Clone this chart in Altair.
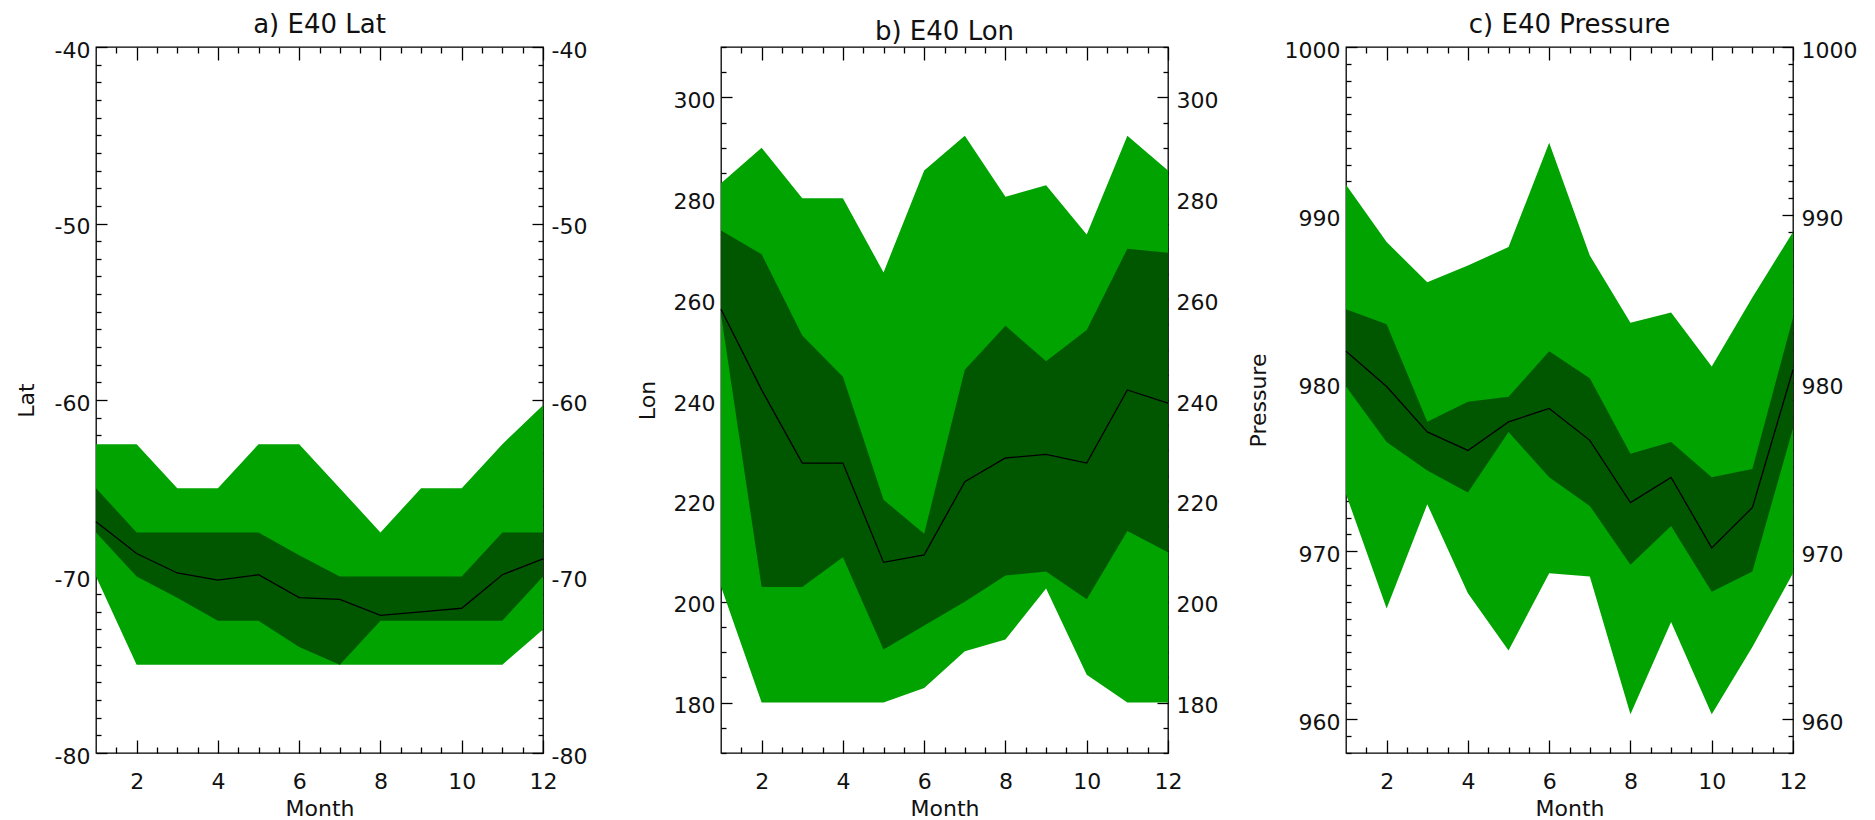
import altair as alt
import pandas as pd

FONT = "DejaVu Sans"
LIGHT = "#00a300"
DARK = "#005700"

months = list(range(1, 13))

# a) Lat
lat_out_lo = [-70, -75, -75, -75, -75, -75, -75, -75, -75, -75, -75, -73]
lat_out_hi = [-62.5, -62.5, -65, -65, -62.5, -62.5, -65, -67.5, -65, -65, -62.5, -60.3]
lat_in_lo = [-67.5, -70, -71.2, -72.5, -72.5, -74, -75, -72.5, -72.5, -72.5, -72.5, -70]
lat_in_hi = [-65, -67.5, -67.5, -67.5, -67.5, -68.8, -70, -70, -70, -70, -67.5, -67.5]
lat_med = [-66.9, -68.7, -69.8, -70.2, -69.9, -71.2, -71.3, -72.2, -72.0, -71.8, -69.9, -69.0]

# b) Lon
lon_out_lo = [203, 180, 180, 180, 180, 182.9, 190.2, 192.5, 202.6, 185.5, 180, 180]
lon_out_hi = [283, 290, 280, 280, 265.3, 285.5, 292.4, 280.3, 282.6, 272.8, 292.4, 285.5]
lon_in_lo = [257, 202.9, 202.9, 208.8, 190.5, 195.3, 200, 205.2, 206, 200.5, 214, 209.8]
lon_in_hi = [273.6, 268.9, 252.8, 244.6, 220.2, 213.5, 246, 254.7, 247.7, 253.9, 270, 269.2]
lon_med = [258, 242, 227.5, 227.5, 207.8, 209.3, 223.8, 228.5, 229.2, 227.5, 242, 239.4]

# c) Pressure
p_out_lo = [973.4, 966.6, 972.8, 967.5, 964.1, 968.7, 968.5, 960.3, 965.8, 960.3, 964.3, 968.7]
p_out_hi = [991.8, 988.4, 986.0, 987.0, 988.1, 994.3, 987.6, 983.6, 984.2, 981.0, 985.1, 989.0]
p_in_lo = [979.8, 976.5, 974.8, 973.5, 977.1, 974.4, 972.7, 969.2, 971.5, 967.6, 968.8, 977.3]
p_in_hi = [984.4, 983.5, 977.7, 978.9, 979.2, 981.9, 980.3, 975.8, 976.5, 974.4, 974.9, 983.9]
p_med = [981.9, 979.8, 977.1, 976.0, 977.7, 978.5, 976.6, 972.9, 974.4, 970.2, 972.6, 980.8]

x_major = [2, 4, 6, 8, 10, 12]
x_minor = [v / 2 for v in range(3, 24) if v % 4 != 0]

lat_major = [-80, -70, -60, -50, -40]
lat_minor = [v for v in range(-79, -40) if v % 10 != 0]
lon_major = [180, 200, 220, 240, 260, 280, 300]
lon_minor = [v for v in range(170, 311, 5) if v % 20 != 0]
p_major = [960, 970, 980, 990, 1000]
p_minor = [v for v in range(958, 1000) if v % 10 != 0]

W, H = 447, 706
LABEL_EXPR = "toString(datum.value)"


def tick_axis(orient, values, size):
    return alt.Axis(orient=orient, values=values, labels=False, domain=False,
                    grid=False, ticks=True, tickSize=size, offset=-size,
                    tickColor="black", tickWidth=1.3, title=None)


def panel(title, ytitle, ydom, ymaj, ymin, ytitle_x, lo_o, hi_o, lo_i, hi_i, med):
    df = pd.DataFrame({"month": months, "out_lo": lo_o, "out_hi": hi_o,
                       "in_lo": lo_i, "in_hi": hi_i, "med": med})
    xs = alt.Scale(domain=[1, 12], nice=False, zero=False)
    ys = alt.Scale(domain=ydom, nice=False, zero=False)

    x_labels = alt.Axis(orient="bottom", values=x_major, ticks=False, tickSize=0,
                        domain=False, grid=False, labelFontSize=22, labelFont=FONT,
                        labelColor="#111", labelPadding=18, labelFlush=False,
                        labelOverlap=False, labelExpr=LABEL_EXPR,
                        title="Month", titleFontSize=22,
                        titleFont=FONT, titleFontWeight="normal", titleColor="#111",
                        titleX=W / 2, titleY=62, titleBaseline="alphabetic")
    y_left = alt.Axis(orient="left", values=ymaj, ticks=False, tickSize=0,
                      domain=False, grid=False, labelFontSize=22, labelFont=FONT,
                      labelColor="#111", labelPadding=6, labelOffset=3,
                      labelOverlap=False, labelExpr=LABEL_EXPR,
                      title=ytitle, titleFontSize=22,
                      titleFont=FONT, titleFontWeight="normal", titleColor="#111",
                      titleX=ytitle_x, titleY=H / 2, titleAngle=270,
                      titleBaseline="middle", titleAlign="center")
    y_right = alt.Axis(orient="right", values=ymaj, ticks=False, tickSize=0,
                       domain=False, grid=False, labelFontSize=22, labelFont=FONT,
                       labelColor="#111", labelPadding=8, labelOffset=3,
                       labelOverlap=False, labelExpr=LABEL_EXPR, title=None)

    base = alt.Chart(df)
    l1 = base.mark_area(color=LIGHT).encode(
        x=alt.X("month:Q", scale=xs, axis=x_labels),
        y=alt.Y("out_lo:Q", scale=ys, axis=y_left),
        y2="out_hi:Q")
    l2 = base.mark_area(color=DARK).encode(
        x=alt.X("month:Q", scale=xs, axis=tick_axis("bottom", x_major, 13)),
        y=alt.Y("in_lo:Q", scale=ys, axis=tick_axis("left", ymaj, 11)),
        y2="in_hi:Q")
    l3 = base.mark_line(color="black", strokeWidth=1.3).encode(
        x=alt.X("month:Q", scale=xs, axis=tick_axis("bottom", x_minor, 6)),
        y=alt.Y("med:Q", scale=ys, axis=tick_axis("left", ymin, 5)))
    l4 = base.mark_line(opacity=0).encode(
        x=alt.X("month:Q", scale=xs, axis=tick_axis("top", x_major, 13)),
        y=alt.Y("med:Q", scale=ys, axis=y_right))
    l5 = base.mark_line(opacity=0).encode(
        x=alt.X("month:Q", scale=xs, axis=tick_axis("top", x_minor, 6)),
        y=alt.Y("med:Q", scale=ys, axis=tick_axis("right", ymaj, 11)))
    l6 = base.mark_line(opacity=0).encode(
        x=alt.X("month:Q", scale=xs, axis=None),
        y=alt.Y("med:Q", scale=ys, axis=tick_axis("right", ymin, 5)))

    return alt.layer(l1, l2, l3, l4, l5, l6).resolve_axis(
        x="independent", y="independent").properties(
        width=W, height=H,
        title=alt.TitleParams(title, fontSize=26, fontWeight="normal", font=FONT,
                              color="#111", frame="group", anchor="middle",
                              baseline="alphabetic", offset=-20))


pa = panel("a) E40 Lat", "Lat", [-80, -40], lat_major, lat_minor, -70,
           lat_out_lo, lat_out_hi, lat_in_lo, lat_in_hi, lat_med)
pb = panel("b) E40 Lon", "Lon", [170, 310], lon_major, lon_minor, -74,
           lon_out_lo, lon_out_hi, lon_in_lo, lon_in_hi, lon_med)
pc = panel("c) E40 Pressure", "Pressure", [958, 1000], p_major, p_minor, -88,
           p_out_lo, p_out_hi, p_in_lo, p_in_hi, p_med)

chart = alt.hconcat(pa, pb, pc, spacing=178, bounds="flush").configure_view(
    stroke="black", strokeWidth=1.3).properties(
    padding={"left": 14, "top": 11, "right": 5, "bottom": 5},
    background="white")

chart.save("out.html", embed_options={"renderer": "svg", "actions": False})
